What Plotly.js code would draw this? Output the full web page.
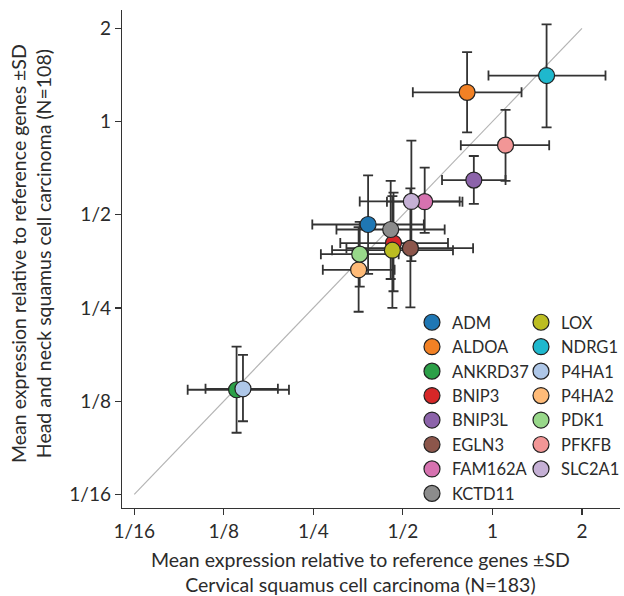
<!DOCTYPE html>
<html>
<head>
<meta charset="utf-8">
<script src="https://cdn.plot.ly/plotly-3.0.1.min.js"></script>
<style>html,body{margin:0;padding:0;background:#fff;}#chart{width:624px;height:596px;}</style>
</head>
<body>
<div id="chart"></div>
<script>
// ---- data ----
const genes   = ["ADM","ALDOA","ANKRD37","BNIP3","BNIP3L","EGLN3","FAM162A","KCTD11","LOX","NDRG1","P4HA1","P4HA2","PDK1","PFKFB","SLC2A1"];
const colors  = ["#1f77b4","#f28125","#2ca048","#d62728","#8c63aa","#8c564b","#d672b0","#8c8c8c","#bcbd22","#1fb8cd","#aec7e8","#ffbb78","#98d88a","#f29696","#c5b0d5"];
// cervical (x): mean, lower (mean-SD), upper (mean+SD)
const xMean = [0.382,0.822,0.138,0.465,0.866,0.530,0.592,0.455,0.461,1.521,0.145,0.355,0.358,1.107,0.534];
const xLow  = [0.248,0.540,0.0945,0.308,0.677,0.323,0.442,0.299,0.289,0.970,0.1085,0.269,0.265,0.783,0.358];
const xHigh = [0.588,1.253,0.207,0.709,1.107,0.861,0.793,0.691,0.737,2.400,0.190,0.469,0.484,1.552,0.776];
// head and neck (y): mean, lower, upper
const yMean = [0.465,1.243,0.136,0.405,0.647,0.390,0.551,0.448,0.384,1.408,0.137,0.332,0.373,0.839,0.552];
const yLow  = [0.322,0.922,0.0988,0.283,0.542,0.251,0.437,0.310,0.250,0.957,0.1076,0.243,0.293,0.643,0.354];
const yHigh = [0.670,1.676,0.1875,0.589,0.774,0.608,0.710,0.643,0.574,2.060,0.1763,0.456,0.474,1.090,0.868];
const identityLine = [0.0625, 2];
const tickVals  = [0.0625,0.125,0.25,0.5,1,2];
const tickTexts = ["1/16","1/8","1/4","1/2","1","2"];
const xTitle = "Mean expression relative to reference genes ±SD<br>Cervical squamus cell carcinoma (N=183)";
const yTitle = "Mean expression relative to reference genes ±SD<br>Head and neck squamus cell carcinoma (N=108)";

const FONT = "Lato, 'Liberation Sans', sans-serif";
const TXT = "#2b2b2b";
const traces = [];
traces.push({x: identityLine, y: identityLine, mode: "lines", line: {color: "#b4b4b4", width: 1.2}, showlegend: false, hoverinfo: "skip"});
// error bars layer
genes.forEach((g,i) => {
  traces.push({
    x: [xMean[i]], y: [yMean[i]], mode: "markers", showlegend: false, hoverinfo: "skip",
    marker: {size: 1, color: "rgba(0,0,0,0)"},
    error_x: {type: "data", symmetric: false, array: [xHigh[i]-xMean[i]], arrayminus: [xMean[i]-xLow[i]], color: "#333", thickness: 1.8, width: 5},
    error_y: {type: "data", symmetric: false, array: [yHigh[i]-yMean[i]], arrayminus: [yMean[i]-yLow[i]], color: "#333", thickness: 1.8, width: 5}
  });
});
// markers layer
genes.forEach((g,i) => {
  traces.push({
    x: [xMean[i]], y: [yMean[i]], mode: "markers", name: g,
    legend: i < 8 ? "legend" : "legend2",
    marker: {size: 16, color: colors[i], line: {color: "#222", width: 1.2}}
  });
});

const axisCommon = {
  type: "log", tickvals: tickVals, ticktext: tickTexts, showgrid: false, zeroline: false,
  showline: true, linecolor: "#333", linewidth: 1.2, ticks: "outside", ticklen: 6, tickcolor: "#333", tickwidth: 1.2,
  tickfont: {family: FONT, size: 19, color: TXT}
};
const legendCommon = {xanchor: "left", yanchor: "top", bgcolor: "rgba(0,0,0,0)", font: {family: FONT, size: 16.5, color: TXT}, itemsizing: "trace", tracegroupgap: 0};
const layout = {
  width: 624, height: 596,
  margin: {l: 122, r: 4, t: 10, b: 88, autoexpand: false},
  paper_bgcolor: "#fff", plot_bgcolor: "#fff",
  font: {family: FONT, color: TXT},
  xaxis: Object.assign({}, axisCommon, {
    range: [Math.log10(Math.pow(2,-4.137)), Math.log10(Math.pow(2,1.425))]
  }),
  yaxis: Object.assign({}, axisCommon, {
    range: [Math.log10(Math.pow(2,-4.147)), Math.log10(Math.pow(2,1.197))]
  }),
  legend: Object.assign({}, legendCommon, {x: 0.5823, y: 0.4076}),
  legend2: Object.assign({}, legendCommon, {x: 0.8012, y: 0.4076}),
  showlegend: true,
  annotations: [
    {text: xTitle, xref: "paper", yref: "paper", x: 0.478, y: -0.0763, xanchor: "center", yanchor: "top",
     showarrow: false, font: {family: FONT, size: 19.5, color: TXT}},
    {text: yTitle, xref: "paper", yref: "paper", x: -0.1827, y: 0.510, xanchor: "center", yanchor: "middle", textangle: -90,
     showarrow: false, font: {family: FONT, size: 19.5, color: TXT}}
  ]
};
Plotly.newPlot("chart", traces, layout, {staticPlot: true, displayModeBar: false});
</script>
</body>
</html>
